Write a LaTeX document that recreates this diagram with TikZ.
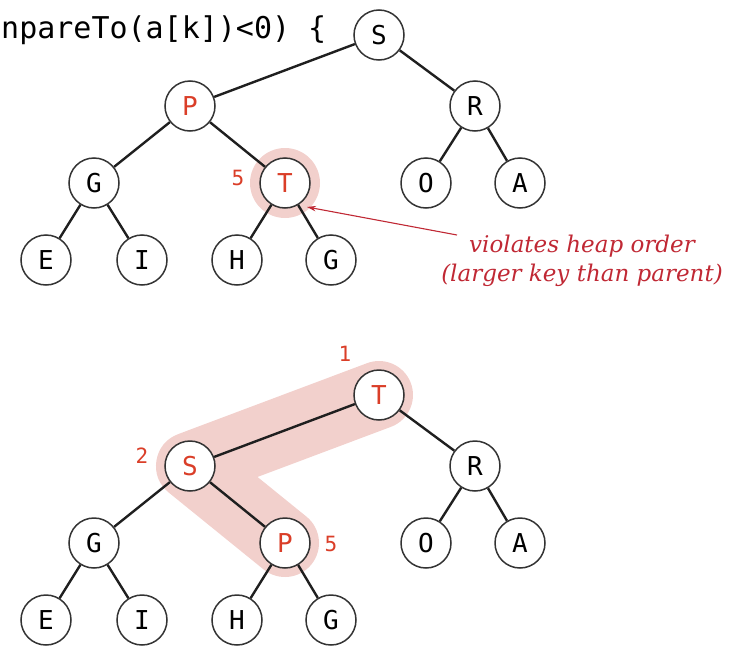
\documentclass[tikz,border=0pt]{standalone}
\usepackage{fontspec}
\newfontfamily\monofont{DejaVu Sans Mono}
\newfontfamily\annofont{DejaVu Serif}
\usetikzlibrary{arrows.meta,backgrounds}
\definecolor{hred}{RGB}{218,62,40}
\definecolor{annored}{RGB}{192,40,52}
\definecolor{halo}{RGB}{242,208,204}
\begin{document}
\begin{tikzpicture}[x=1pt,y=-1pt,
  key/.style={circle,draw=black!80,line width=1.5pt,fill=white,minimum size=50pt,inner sep=0pt,
              font=\monofont\fontsize{26}{26}\selectfont},
  hkey/.style={key,text=hred},
  edge/.style={line width=2.4pt,draw=black!88},
  idx/.style={text=hred,inner sep=0pt,font=\monofont\fontsize{21}{21}\selectfont},
  anno/.style={text=annored,align=center,inner sep=0pt,font=\annofont\itshape\fontsize{23}{29}\selectfont}]
\useasboundingbox (0,0) rectangle (734,648);

% code fragment
\node[anchor=base west,inner sep=0pt,font=\monofont\fontsize{30}{30}\selectfont] (code) at (1,38) {npareTo(a[k])<0) \{};

% ---- top tree ----
\node[key]  (S1)  at (379,35)  {S};
\node[hkey] (P1)  at (190,106) {P};
\node[key]  (R1)  at (475,106) {R};
\node[key]  (G1)  at (94,183)  {G};
\node[hkey] (T1)  at (285,183) {T};
\node[key]  (O1)  at (426,183) {O};
\node[key]  (A1)  at (520,183) {A};
\node[key]  (E1)  at (46,260)  {E};
\node[key]  (I1)  at (142,260) {I};
\node[key]  (H1)  at (237,260) {H};
\node[key]  (G1b) at (331,260) {G};
\draw[edge] (S1) -- (P1);
\draw[edge] (S1) -- (R1);
\draw[edge] (P1) -- (G1);
\draw[edge] (P1) -- (T1);
\draw[edge] (R1) -- (O1);
\draw[edge] (R1) -- (A1);
\draw[edge] (G1) -- (E1);
\draw[edge] (G1) -- (I1);
\draw[edge] (T1) -- (H1);
\draw[edge] (T1) -- (G1b);
\node[idx] (n5a) at (238,178) {5};

\node[anno] (note) at (582,261) {violates heap order\\(larger key than parent)};
\coordinate (arrS) at (457,235);
\coordinate (arrE) at (307,207);
\draw[annored,line width=1.1pt,-{Stealth[length=9pt,width=5.5pt]}] (arrS) -- (arrE);

% ---- bottom tree ----
\node[hkey] (T2)  at (379,395) {T};
\node[hkey] (S2)  at (190,466) {S};
\node[key]  (R2)  at (475,466) {R};
\node[key]  (G2)  at (94,543)  {G};
\node[hkey] (P2)  at (285,543) {P};
\node[key]  (O2)  at (426,543) {O};
\node[key]  (A2)  at (520,543) {A};
\node[key]  (E2)  at (46,620)  {E};
\node[key]  (I2)  at (142,620) {I};
\node[key]  (H2)  at (237,620) {H};
\node[key]  (G2b) at (331,620) {G};
\draw[edge] (T2) -- (S2);
\draw[edge] (T2) -- (R2);
\draw[edge] (S2) -- (G2);
\draw[edge] (S2) -- (P2);
\draw[edge] (R2) -- (O2);
\draw[edge] (R2) -- (A2);
\draw[edge] (G2) -- (E2);
\draw[edge] (G2) -- (I2);
\draw[edge] (P2) -- (H2);
\draw[edge] (P2) -- (G2b);
\node[idx] (n1) at (345,354) {1};
\node[idx] (n2) at (142,456) {2};
\node[idx] (n5b) at (331,544) {5};

% ---- halos ----
\begin{scope}[on background layer]
  \fill[halo] (T1.center) circle (35pt);
  \draw[halo,line width=68pt,line cap=round,line join=round] (T2.center) -- (S2.center) -- (P2.center);
\end{scope}
\end{tikzpicture}
\end{document}
